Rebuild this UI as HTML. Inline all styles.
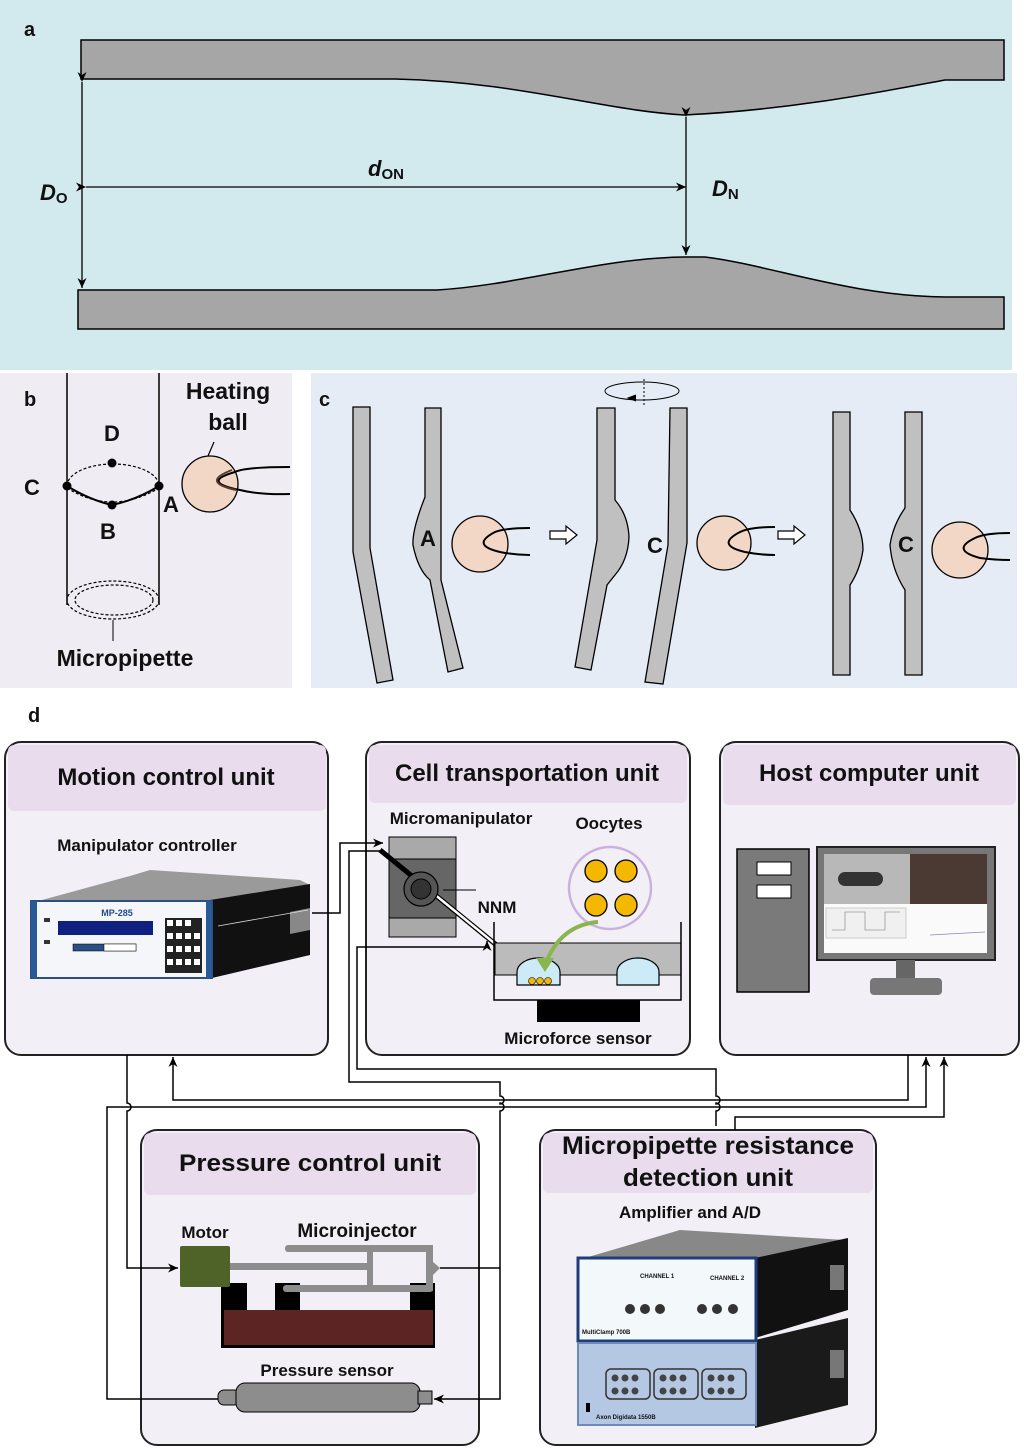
<!DOCTYPE html>
<html><head><meta charset="utf-8"><style>
html,body{margin:0;padding:0;background:#fff;}
svg{display:block;}
text{font-family:"Liberation Sans",Arial,sans-serif;font-weight:bold;fill:#111;}
</style></head><body>
<svg width="1024" height="1450" viewBox="0 0 1024 1450" xmlns="http://www.w3.org/2000/svg">
<defs>
<marker id="ar" markerWidth="12" markerHeight="12" refX="10" refY="6" orient="auto" markerUnits="userSpaceOnUse"><path d="M0,1.5 L10,6 L0,10.5 L3,6 Z" fill="#000"/></marker>
</defs>
<!-- Panel a -->
<rect x="0" y="0" width="1012" height="370" fill="#d2e9ee"/>
<text x="24" y="36" font-size="20">a</text>
<path d="M81,40 L1004,40 L1004,80 L945,80 C880,92 790,110 684,115 C600,110 520,82 395,79 L81,79 Z" fill="#a6a6a6" stroke="#000" stroke-width="1.5"/>
<path d="M78,290 L437,290 C520,285 600,258 684,257 L705,257 C770,265 850,296 945,297 L1004,297 L1004,329 L78,329 Z" fill="#a6a6a6" stroke="#000" stroke-width="1.5"/>
<line x1="82" y1="82" x2="82" y2="288" stroke="#000" stroke-width="1.3" marker-start="url(#ar)" marker-end="url(#ar)"/>
<line x1="86" y1="187" x2="686" y2="187" stroke="#000" stroke-width="1.3" marker-start="url(#ar)" marker-end="url(#ar)"/>
<line x1="686" y1="117" x2="686" y2="255" stroke="#000" stroke-width="1.3" marker-start="url(#ar)" marker-end="url(#ar)"/>
<text x="40" y="200" font-size="22" font-style="italic">D<tspan font-size="15" font-style="normal" dy="3">O</tspan></text>
<text x="368" y="176" font-size="22" font-style="italic">d<tspan font-size="15" font-style="normal" dy="3">ON</tspan></text>
<text x="712" y="196" font-size="22" font-style="italic">D<tspan font-size="15" font-style="normal" dy="3">N</tspan></text>

<!-- Panel b -->
<rect x="0" y="373" width="292" height="315" fill="#efedf3"/>
<text x="24" y="406" font-size="20">b</text>
<line x1="67" y1="373" x2="67" y2="605" stroke="#000" stroke-width="1.5"/>
<line x1="159" y1="373" x2="159" y2="605" stroke="#000" stroke-width="1.5"/>
<path d="M67,486 A46,22 0 0 1 159,486" fill="none" stroke="#000" stroke-width="1.2" stroke-dasharray="3,2"/>
<path d="M67,488 Q112,516 159,488" fill="none" stroke="#000" stroke-width="1.2" stroke-dasharray="3,2"/>
<path d="M67,486 Q90,500 112,505 Q136,500 159,486" fill="none" stroke="#000" stroke-width="2"/>
<ellipse cx="113" cy="600" rx="46" ry="19" fill="none" stroke="#000" stroke-width="1.2" stroke-dasharray="3,2"/>
<ellipse cx="114" cy="600" rx="39" ry="15" fill="none" stroke="#000" stroke-width="1.2" stroke-dasharray="3,2"/>
<line x1="113" y1="620" x2="113" y2="641" stroke="#000" stroke-width="1"/>
<circle cx="112" cy="463" r="4.5" fill="#000"/><circle cx="67" cy="486" r="4.5" fill="#000"/>
<circle cx="159" cy="486" r="4.5" fill="#000"/><circle cx="112" cy="505" r="4.5" fill="#000"/>
<circle cx="210" cy="484" r="28" fill="#f2d6c6" stroke="#000" stroke-width="1.3"/>
<path d="M290,467 Q245,467 235,472 Q200,482 240,490 Q260,495 290,494" fill="none" stroke="#000" stroke-width="2"/>
<path d="M232,470 Q200,482 236,490" fill="none" stroke="#5a3a2a" stroke-width="2"/>
<line x1="208" y1="456" x2="214" y2="442" stroke="#000" stroke-width="1.2"/>
<text x="112" y="441" font-size="22" text-anchor="middle">D</text>
<text x="32" y="495" font-size="22" text-anchor="middle">C</text>
<text x="108" y="539" font-size="22" text-anchor="middle">B</text>
<text x="171" y="512" font-size="22" text-anchor="middle">A</text>
<text x="228" y="399" font-size="23" text-anchor="middle">Heating</text>
<text x="228" y="430" font-size="23" text-anchor="middle">ball</text>
<text x="125" y="666" font-size="23" text-anchor="middle">Micropipette</text>

<!-- Panel c -->
<rect x="311" y="373" width="706" height="315" fill="#e6ecf6"/>
<text x="319" y="406" font-size="20">c</text>
<g fill="#c0c0c0" stroke="#000" stroke-width="1.3">
<path d="M353,407 L370,407 L370,548 L393,680 L377,683 L353,552 Z"/>
<path d="M425,408 L441,408 L441,580 L463,668 L448,672 L430,580 Q418,570 413,545 Q412,530 425,497 Z"/>
<path d="M597,408 L615,408 L615,500 Q628,515 629,537 Q628,560 615,575 L607,585 L591,670 L575,667 L597,540 Z"/>
<path d="M670,408 L687,408 L687,543 L663,684 L645,682 L668,545 Z"/>
<path d="M833,412 L850,412 L850,510 Q863,530 863,550 Q860,570 850,585 L850,675 L833,675 Z"/>
<path d="M905,412 L922,412 L922,675 L905,675 L905,590 Q892,570 890,545 Q893,525 905,508 Z"/>
</g>
<circle cx="480" cy="544" r="28" fill="#f2d6c6" stroke="#000" stroke-width="1.3"/>
<path d="M530,528 Q505,528 495,532 Q470,545 500,552 Q515,555 530,555" fill="none" stroke="#000" stroke-width="2"/>
<circle cx="724" cy="543" r="27" fill="#f2d6c6" stroke="#000" stroke-width="1.3"/>
<path d="M775,527 Q750,527 740,532 Q715,545 745,552 Q760,555 775,555" fill="none" stroke="#000" stroke-width="2"/>
<circle cx="960" cy="550" r="28" fill="#f2d6c6" stroke="#000" stroke-width="1.3"/>
<path d="M1010,533 Q985,533 975,538 Q950,550 980,558 Q995,560 1010,560" fill="none" stroke="#000" stroke-width="2"/>
<text x="428" y="546" font-size="22" text-anchor="middle">A</text>
<text x="655" y="553" font-size="22" text-anchor="middle">C</text>
<text x="906" y="552" font-size="22" text-anchor="middle">C</text>
<path d="M550,531 L566,531 L566,526 L577,535 L566,544 L566,539 L550,539 Z" fill="#fff" stroke="#000" stroke-width="1.2"/>
<path d="M778,531 L794,531 L794,526 L805,535 L794,544 L794,539 L778,539 Z" fill="#fff" stroke="#000" stroke-width="1.2"/>
<ellipse cx="642" cy="391" rx="37" ry="9" fill="none" stroke="#000" stroke-width="1"/>
<line x1="644" y1="379" x2="644" y2="407" stroke="#000" stroke-width="1" stroke-dasharray="2,2"/>
<path d="M636,395 L628,398 L636,401" fill="#000" stroke="#000"/>

<!-- Panel d -->
<text x="28" y="722" font-size="20">d</text>
<g stroke="#222" stroke-width="2" fill="#f2eff6">
<rect x="5" y="742" width="323" height="313" rx="16"/>
<rect x="366" y="742" width="324" height="313" rx="16"/>
<rect x="720" y="742" width="299" height="313" rx="16"/>
<rect x="141" y="1130" width="338" height="315" rx="16"/>
<rect x="540" y="1130" width="336" height="315" rx="16"/>
</g>
<g fill="#e8dced">
<rect x="8" y="745" width="318" height="66" rx="6"/>
<rect x="369" y="745" width="318" height="58" rx="6"/>
<rect x="723" y="745" width="293" height="60" rx="6"/>
<rect x="144" y="1133" width="332" height="62" rx="6"/>
<rect x="543" y="1133" width="330" height="60" rx="6"/>
</g>
<text x="166" y="785" font-size="24" text-anchor="middle">Motion control unit</text>
<text x="527" y="781" font-size="24" text-anchor="middle">Cell transportation unit</text>
<text x="869" y="781" font-size="24" text-anchor="middle">Host computer unit</text>
<text x="310" y="1171" font-size="24" text-anchor="middle" textLength="262" lengthAdjust="spacingAndGlyphs">Pressure control unit</text>
<text x="708" y="1154" font-size="25" text-anchor="middle" textLength="292" lengthAdjust="spacingAndGlyphs">Micropipette resistance</text>
<text x="708" y="1186" font-size="25" text-anchor="middle" textLength="170" lengthAdjust="spacingAndGlyphs">detection unit</text>

<!-- Motion device -->
<text x="147" y="851" font-size="17" text-anchor="middle">Manipulator controller</text>
<path d="M130,876 L130,876 L150,870 L300,880 L310,885 L210,902 L31,903 Z" fill="#9a9a9a"/>
<path d="M210,900 L310,884 L310,955 L212,978 Z" fill="#111"/>
<path d="M290,912 L310,908 L310,930 L290,934 Z" fill="#888"/>
<line x1="218" y1="926" x2="308" y2="910" stroke="#ddd" stroke-width="0.8"/>
<rect x="31" y="901" width="181" height="77" fill="#f4f6fa" stroke="#2a4f80" stroke-width="2"/>
<rect x="31" y="901" width="6" height="77" fill="#2a5a95"/><rect x="206" y="901" width="6" height="77" fill="#2a5a95"/>
<text x="117" y="916" font-size="9" text-anchor="middle" style="fill:#24488a">MP-285</text>
<rect x="58" y="921" width="95" height="14" fill="#102080"/>
<rect x="73" y="944" width="63" height="7" fill="#2a4f80" stroke="#000" stroke-width="0.5"/>
<rect x="104" y="944" width="32" height="7" fill="#fff" stroke="#000" stroke-width="0.5"/>
<rect x="44" y="918" width="6" height="4" fill="#333"/><rect x="44" y="940" width="6" height="4" fill="#333"/>
<g fill="#222"><rect x="165" y="918" width="37" height="55"/></g>
<g fill="#fff"><rect x="167" y="920" width="6" height="6"/><rect x="176" y="920" width="6" height="6"/><rect x="185" y="920" width="6" height="6"/>
<rect x="167" y="933" width="6" height="6"/><rect x="176" y="933" width="6" height="6"/><rect x="185" y="933" width="6" height="6"/><rect x="194" y="933" width="6" height="6"/>
<rect x="167" y="946" width="6" height="6"/><rect x="176" y="946" width="6" height="6"/><rect x="185" y="946" width="6" height="6"/><rect x="194" y="946" width="6" height="6"/>
<rect x="167" y="959" width="6" height="6"/><rect x="176" y="959" width="6" height="6"/><rect x="185" y="959" width="6" height="6"/><rect x="194" y="959" width="6" height="6"/></g>

<!-- Cell transport contents -->
<text x="461" y="824" font-size="17" text-anchor="middle">Micromanipulator</text>
<text x="609" y="829" font-size="17" text-anchor="middle">Oocytes</text>
<rect x="389" y="837" width="67" height="100" fill="#a9a9a9" stroke="#000" stroke-width="1"/>
<rect x="389" y="859" width="67" height="59" fill="#666" stroke="#000" stroke-width="1"/>
<line x1="380" y1="850" x2="537" y2="978" stroke="#000" stroke-width="5"/>
<line x1="428" y1="889" x2="537" y2="978" stroke="#fff" stroke-width="2.5"/>
<circle cx="421" cy="889" r="17" fill="#555" stroke="#000" stroke-width="1.2"/>
<circle cx="421" cy="889" r="10" fill="#333" stroke="#000" stroke-width="1"/>
<line x1="443" y1="890" x2="476" y2="890" stroke="#000" stroke-width="1"/>
<text x="497" y="913" font-size="17" text-anchor="middle">NNM</text>
<rect x="495" y="943" width="186" height="32" fill="#bbb" stroke="#000" stroke-width="1"/>
<path d="M494,922 L494,1000 L681,1000 L681,922" fill="none" stroke="#000" stroke-width="1.5"/>
<path d="M517,985 L517,972 A21.5,14 0 0 1 560,972 L560,985 Z" fill="#cdeaf7" stroke="#000" stroke-width="1.2"/>
<path d="M617,985 L617,972 A21,14 0 0 1 659,972 L659,985 Z" fill="#cdeaf7" stroke="#000" stroke-width="1.2"/>
<circle cx="532" cy="981" r="3.5" fill="#f5b800" stroke="#000" stroke-width="0.6"/><circle cx="540" cy="981" r="3.5" fill="#f5b800" stroke="#000" stroke-width="0.6"/><circle cx="548" cy="981" r="3.5" fill="#f5b800" stroke="#000" stroke-width="0.6"/>
<rect x="537" y="1000" width="103" height="22" fill="#000"/>
<text x="578" y="1044" font-size="17" text-anchor="middle">Microforce sensor</text>
<circle cx="610" cy="888" r="41" fill="#f2eff6" stroke="#c9b3de" stroke-width="2.5"/>
<g fill="#f5b800" stroke="#000" stroke-width="1.3">
<circle cx="596" cy="871" r="11"/><circle cx="626" cy="871" r="11"/><circle cx="596" cy="905" r="11"/><circle cx="626" cy="905" r="11"/></g>
<path d="M598,922 Q560,925 545,965" fill="none" stroke="#8ab550" stroke-width="4"/>
<path d="M536,958 L545,972 L554,958 Z" fill="#8ab550"/>

<!-- Host -->
<rect x="737" y="849" width="72" height="143" fill="#7a7a7a" stroke="#000" stroke-width="1.5"/>
<rect x="757" y="862" width="34" height="13" fill="#fff" stroke="#000"/>
<rect x="757" y="885" width="34" height="13" fill="#fff" stroke="#000"/>
<rect x="817" y="847" width="178" height="113" fill="#777" stroke="#222" stroke-width="2"/>
<rect x="824" y="854" width="163" height="99" fill="#fafafa"/>
<rect x="824" y="854" width="86" height="50" fill="#b8b8b8"/>
<rect x="838" y="872" width="45" height="14" rx="7" fill="#333"/>
<rect x="910" y="854" width="77" height="50" fill="#4a3a33"/>
<rect x="826" y="908" width="80" height="30" fill="#f0f0f0" stroke="#ccc"/>
<path d="M832,930 L845,930 L845,912 L865,912 L865,930 L885,930 L885,912 L900,912" fill="none" stroke="#999" stroke-width="0.8"/>
<line x1="930" y1="935" x2="985" y2="932" stroke="#88a" stroke-width="0.8"/>
<rect x="896" y="960" width="19" height="18" fill="#666"/>
<rect x="870" y="978" width="72" height="17" rx="4" fill="#777"/>

<!-- Pressure -->
<text x="205" y="1238" font-size="17" text-anchor="middle">Motor</text>
<text x="357" y="1237" font-size="19" text-anchor="middle">Microinjector</text>
<rect x="221" y="1283" width="214" height="65" fill="#000"/>
<rect x="247" y="1283" width="28" height="27" fill="#f2eff6"/><rect x="300" y="1283" width="110" height="27" fill="#f2eff6"/>
<rect x="224" y="1310" width="209" height="35" fill="#5c2422"/>
<rect x="229" y="1263" width="142" height="7" fill="#8d8d8d"/>
<rect x="285" y="1245" width="146" height="7" rx="3" fill="#8d8d8d"/>
<rect x="367" y="1245" width="6" height="46" fill="#8d8d8d"/>
<rect x="426" y="1245" width="7" height="46" fill="#8d8d8d"/>
<rect x="283" y="1285" width="150" height="7" rx="3" fill="#8d8d8d"/>
<path d="M432,1261 L440,1268 L432,1276 Z" fill="#8d8d8d"/>
<rect x="180" y="1246" width="50" height="41" rx="2" fill="#4f6228"/>
<text x="327" y="1376" font-size="17" text-anchor="middle">Pressure sensor</text>
<rect x="218" y="1390" width="22" height="15" rx="6" fill="#8d8d8d" stroke="#000"/>
<rect x="236" y="1383" width="184" height="29" rx="9" fill="#8d8d8d" stroke="#000"/>
<rect x="418" y="1391" width="14" height="13" fill="#8d8d8d" stroke="#000"/>

<!-- Resistance -->
<text x="690" y="1218" font-size="17" text-anchor="middle">Amplifier and A/D</text>
<path d="M578,1260 L680,1230 L845,1240 L755,1260 Z" fill="#888"/>
<path d="M755,1258 L848,1238 L848,1310 L755,1338 Z" fill="#111"/>
<path d="M755,1340 L848,1318 L848,1405 L755,1428 Z" fill="#1a1a1a"/>
<rect x="830" y="1265" width="14" height="25" fill="#777"/>
<rect x="830" y="1350" width="14" height="28" fill="#777"/>
<rect x="578" y="1258" width="178" height="83" fill="#f3f8fb" stroke="#1e3d7a" stroke-width="3"/>
<text x="640" y="1278" font-size="6" fill="#333">CHANNEL 1</text><text x="710" y="1280" font-size="6" fill="#333">CHANNEL 2</text>
<g fill="#333"><circle cx="630" cy="1309" r="5"/><circle cx="645" cy="1309" r="5"/><circle cx="660" cy="1309" r="5"/><circle cx="702" cy="1309" r="5"/><circle cx="717" cy="1309" r="5"/><circle cx="733" cy="1309" r="5"/></g>
<text x="582" y="1334" font-size="6" fill="#1e3d7a">MultiClamp 700B</text>
<rect x="578" y="1343" width="178" height="82" fill="#b4c8e4" stroke="#6e8ab8" stroke-width="2"/>
<g fill="none" stroke="#333" stroke-width="1.5">
<rect x="606" y="1369" width="44" height="30" rx="5"/><rect x="654" y="1369" width="44" height="30" rx="5"/><rect x="702" y="1369" width="44" height="30" rx="5"/></g>
<g fill="#444"><circle cx="615" cy="1378" r="3.5"/><circle cx="625" cy="1378" r="3.5"/><circle cx="635" cy="1378" r="3.5"/><circle cx="615" cy="1391" r="3.5"/><circle cx="625" cy="1391" r="3.5"/><circle cx="635" cy="1391" r="3.5"/>
<circle cx="663" cy="1378" r="3.5"/><circle cx="673" cy="1378" r="3.5"/><circle cx="683" cy="1378" r="3.5"/><circle cx="663" cy="1391" r="3.5"/><circle cx="673" cy="1391" r="3.5"/><circle cx="683" cy="1391" r="3.5"/>
<circle cx="711" cy="1378" r="3.5"/><circle cx="721" cy="1378" r="3.5"/><circle cx="731" cy="1378" r="3.5"/><circle cx="711" cy="1391" r="3.5"/><circle cx="721" cy="1391" r="3.5"/><circle cx="731" cy="1391" r="3.5"/></g>
<rect x="586" y="1403" width="4" height="9" fill="#000"/>
<text x="596" y="1419" font-size="6" fill="#1e3d7a">Axon Digidata 1550B</text>

<!-- Connectors -->
<g fill="none" stroke="#000" stroke-width="1.5">
<path d="M312,913 L340,913 L340,843 L383,843" marker-end="url(#ar)"/>
<path d="M716,1126 L716,1111 A4,4 0 0 0 716,1103 L716,1104 A4,4 0 0 0 716,1096 L716,1069 L357,1069 L357,947 L487,947 L487,941" marker-end="url(#ar)"/>
<path d="M383,851 L349,851 L349,1082 L500,1082 L500,1096 A4,4 0 0 1 500,1104 L500,1103 A4,4 0 0 1 500,1111 L500,1268 L440,1268"/>
<path d="M500,1268 L500,1399 L434,1399" marker-end="url(#ar)"/>
<path d="M908,1055 L908,1100 L173,1100 L173,1057" marker-end="url(#ar)"/>
<path d="M127,1055 L127,1103 A4,4 0 0 1 127,1111 L127,1268 L178,1268" marker-end="url(#ar)"/>
<path d="M218,1399 L107,1399 L107,1107 L926,1107 L926,1057" marker-end="url(#ar)"/>
<path d="M735,1130 L735,1117 L944,1117 L944,1057" marker-end="url(#ar)"/>
</g>
</svg>
</body></html>
